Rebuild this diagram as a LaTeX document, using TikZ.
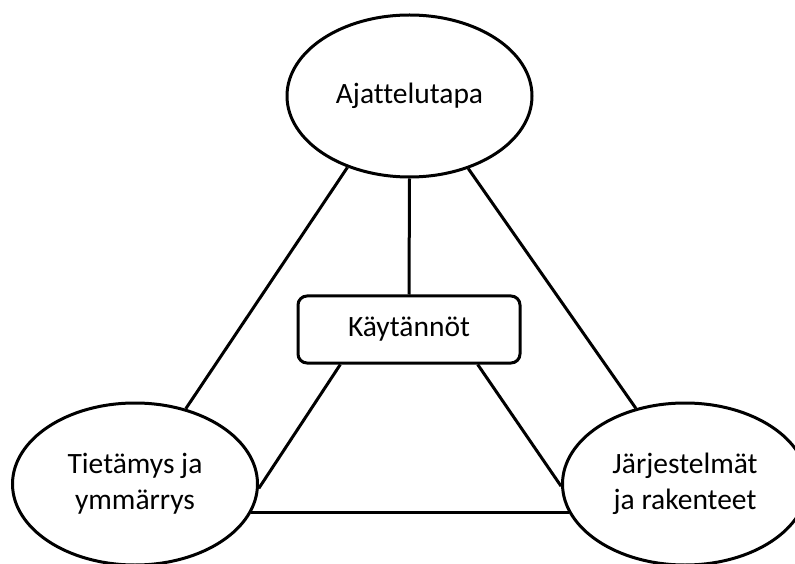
\documentclass[tikz,border=0pt]{standalone}
\usepackage{fontspec}
\setmainfont[Ligatures=NoCommon]{Carlito}
\usetikzlibrary{shapes.geometric}
\newcommand{\twolines}[2]{\raisebox{-3pt}{\begin{tabular}{@{}c@{}}#1\\#2\end{tabular}}}
\begin{document}
\begin{tikzpicture}[x=1pt,y=1pt,
  every node/.style={font=\fontsize{29.5}{36}\selectfont, align=center},
  bubble/.style={ellipse, draw, line width=3pt, minimum width=245pt, minimum height=162pt, inner sep=0pt},
  practice/.style={rectangle, draw, line width=3pt, rounded corners=9pt, minimum width=222pt, minimum height=67pt, inner sep=0pt},
  link/.style={line width=3pt}]
  \useasboundingbox (0,0) rectangle (795,563);
  \node[bubble] (mind) at (409.5,467) {Ajattelutapa};
  \node[bubble] (know) at (135,79) {\twolines{Tietämys ja}{ymmärrys}};
  \node[bubble] (sys) at (685,79) {\twolines{Järjestelmät}{ja rakenteet}};
  \node[practice] (prac) at (409,233.5) {Käytännöt};
  \draw[link] (mind.229) -- (know.56);
  \draw[link] (mind.309) -- (sys.123.5);
  \draw[link] (mind.south) -- (prac.north);
  \draw[link] (prac.207.6) -- (know.-2);
  \draw[link] (prac.333.8) -- (sys.181);
  \draw[link] (know.-14) -- (sys.194);
\end{tikzpicture}
\end{document}
